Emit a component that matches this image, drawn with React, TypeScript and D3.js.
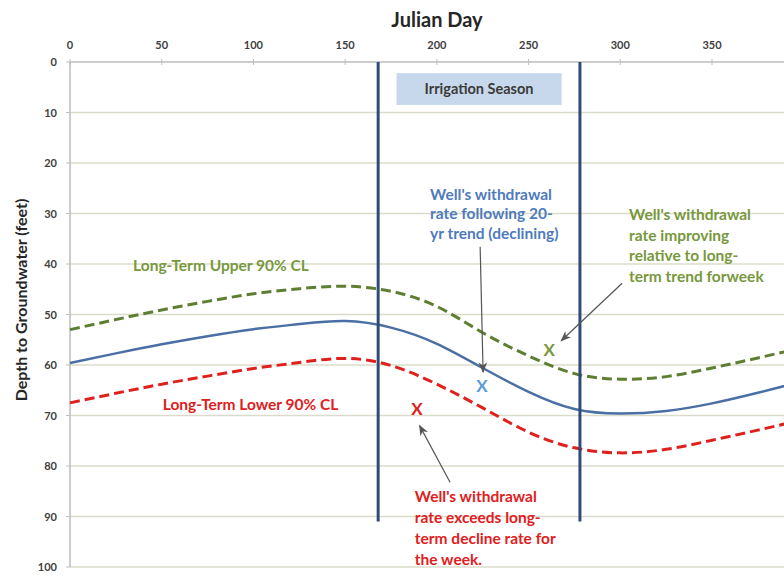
import React from 'react';
import * as d3 from 'd3';

const days = [0, 25, 50, 75, 100, 125, 150, 175, 200, 225, 250, 275, 300, 325, 350, 375, 400];
const meanDepth = [59.6, 57.7, 55.9, 54.3, 52.9, 51.9, 51.3, 52.6, 55.8, 60.6, 65.3, 68.7, 69.6, 69.1, 67.6, 65.5, 63.2];
const upperCL = [53.0, 51.0, 49.1, 47.4, 45.9, 44.9, 44.4, 45.4, 48.4, 53.6, 58.2, 61.7, 62.8, 62.3, 60.6, 58.6, 56.5];
const lowerCL = [67.5, 65.6, 63.8, 62.2, 60.7, 59.5, 58.7, 60.1, 63.8, 68.5, 73.3, 76.4, 77.4, 76.7, 74.9, 72.9, 70.8];

const xTicks = [0, 50, 100, 150, 200, 250, 300, 350];
const yTicks = [0, 10, 20, 30, 40, 50, 60, 70, 80, 90, 100];

const seasonStart = 168;
const seasonEnd = 278;
const seasonLineDepth = 91;

// this week's observation for the well
const wellObs = [
  { day: 189.2, depth: 68.7, color: '#e0201c' },
  { day: 224.6, depth: 64.2, color: '#5b9bd5' },
  { day: 261.2, depth: 57.0, color: '#77983c' },
];

const blueNote = ["Well's withdrawal", 'rate following  20-', 'yr trend (declining)'];
const greenNote = ["Well's withdrawal", 'rate improving', 'relative to long-', 'term trend forweek'];
const redNote = ["Well's withdrawal", 'rate exceeds long-', 'term decline rate for', 'the week.'];

const W = 784;
const H = 578;
const FONT = 'Lato, "Open Sans", sans-serif';

export default function App() {
  const x = d3.scaleLinear().domain([0, 350]).range([70, 712]);
  const y = d3.scaleLinear().domain([0, 100]).range([62, 567]);

  const line = (vals: number[]) =>
    d3
      .line<number>()
      .x((_, i) => x(days[i]))
      .y((d) => y(d))
      .curve(d3.curveNatural)(vals) || '';

  const arrow = (d0: number, z0: number, d1: number, z1: number, key: string) => (
    <line
      key={key}
      x1={x(d0)}
      y1={y(z0)}
      x2={x(d1)}
      y2={y(z1)}
      stroke="#555"
      strokeWidth={1.2}
      markerEnd="url(#arr)"
    />
  );

  const note = (lines: string[], day: number, depth: number, color: string, lh: number) => (
    <text x={x(day)} y={y(depth)} fill={color} fontSize={15.5} fontWeight="bold" fontFamily={FONT}>
      {lines.map((l, i) => (
        <tspan key={i} x={x(day)} dy={i === 0 ? 0 : lh}>
          {l}
        </tspan>
      ))}
    </text>
  );

  return (
    <svg width={W} height={H} style={{ position: 'absolute', left: 0, top: 0, background: '#fff' }}>
      <defs>
        <marker id="arr" viewBox="0 0 10 10" refX="9" refY="5" markerWidth="9" markerHeight="9" orient="auto">
          <path d="M0,1 L10,5 L0,9 L3,5 Z" fill="#555" />
        </marker>
      </defs>

      {/* grid */}
      {yTicks.slice(1).map((t) => (
        <line key={t} x1={70} x2={W} y1={y(t)} y2={y(t)} stroke="#dadcc9" strokeWidth={1.5} />
      ))}
      {/* axes */}
      <line x1={70} x2={W} y1={y(0)} y2={y(0)} stroke="#bdbdbd" strokeWidth={1.5} />
      <line x1={70} x2={70} y1={y(0)} y2={y(100)} stroke="#bdbdbd" strokeWidth={1.5} />
      {xTicks.map((t) => (
        <g key={t}>
          <line x1={x(t)} x2={x(t)} y1={y(0) - 3} y2={y(0) + 3} stroke="#bdbdbd" />
          <text x={x(t)} y={49} textAnchor="middle" fontSize={11} fontWeight="bold" fill="#404040" fontFamily={FONT}>
            {t}
          </text>
        </g>
      ))}
      {yTicks.map((t) => (
        <g key={t}>
          <line x1={66} x2={70} y1={y(t)} y2={y(t)} stroke="#bdbdbd" />
          <text x={57} y={y(t) + 4} textAnchor="end" fontSize={11} fontWeight="bold" fill="#404040" fontFamily={FONT}>
            {t}
          </text>
        </g>
      ))}
      <text x={437} y={27} textAnchor="middle" fontSize={20} fontWeight="bold" fill="#262626" fontFamily={FONT}>
        Julian Day
      </text>
      <text
        transform="translate(27,300) rotate(-90)"
        textAnchor="middle"
        fontSize={16}
        fontWeight="bold"
        fill="#262626"
        fontFamily={FONT}
      >
        Depth to Groundwater (feet)
      </text>

      {/* irrigation season */}
      <rect x={x(178)} y={y(2.2)} width={x(268) - x(178)} height={y(8.5) - y(2.2)} fill="#c8d8ec" />
      <text x={(x(178) + x(268)) / 2} y={y(5.35) + 5} textAnchor="middle" fontSize={14.5} fontWeight="bold" fill="#3a3a3a" fontFamily={FONT}>
        Irrigation Season
      </text>

      {/* series */}
      <path d={line(upperCL)} fill="none" stroke="#5e7f32" strokeWidth={3} strokeDasharray="10,5" />
      <path d={line(lowerCL)} fill="none" stroke="#e0201c" strokeWidth={3} strokeDasharray="10,5" />
      <path d={line(meanDepth)} fill="none" stroke="#4a6fa5" strokeWidth={2.5} />

      {/* season bounds */}
      {[seasonStart, seasonEnd].map((d) => (
        <line key={d} x1={x(d)} x2={x(d)} y1={y(0)} y2={y(seasonLineDepth)} stroke="#2f4b77" strokeWidth={3} />
      ))}

      {/* observations */}
      {wellObs.map((o, i) => (
        <text key={i} x={x(o.day)} y={y(o.depth) + 6} textAnchor="middle" fontSize={17} fontWeight="bold" fill={o.color} fontFamily={FONT}>
          X
        </text>
      ))}

      {arrow(223.6, 36.6, 225.2, 61.4, 'b')}
      {arrow(301, 43.8, 267.8, 55.2, 'g')}
      {arrow(207.2, 83.2, 190.6, 72.0, 'r')}

      <text x={x(34.4)} y={y(41.4)} fontSize={15.5} fontWeight="bold" fill="#77983c" fontFamily={FONT}>
        Long-Term Upper 90% CL
      </text>
      <text x={x(50.6)} y={y(68.9)} fontSize={15.5} fontWeight="bold" fill="#e0201c" fontFamily={FONT}>
        Long-Term Lower 90% CL
      </text>

      {note(blueNote, 196.3, 27.3, '#4f7bbd', 19.5)}
      {note(greenNote, 304.8, 31.3, '#77983c', 20.5)}
      {note(redNote, 188, 87.1, '#e0201c', 21)}
    </svg>
  );
}
